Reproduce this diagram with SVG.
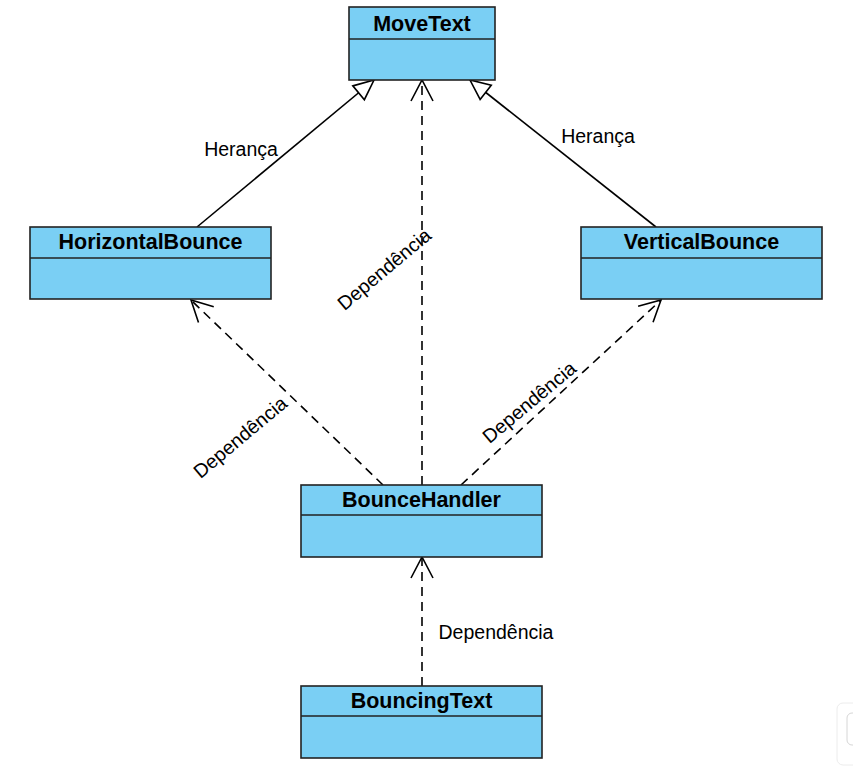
<svg xmlns="http://www.w3.org/2000/svg" width="853" height="767" viewBox="0 0 853 767">
<style>
.box{fill:#7acff4;stroke:#222;stroke-width:1.6}
.div{stroke:#222;stroke-width:1.6}
.title{font-family:"Liberation Sans",Arial,sans-serif;font-weight:bold;font-size:21.5px;fill:#000;text-anchor:middle}
.lbl{font-family:"Liberation Sans",Arial,sans-serif;font-size:19.5px;fill:#000;text-anchor:middle}
.inh{fill:none;stroke:#000;stroke-width:1.6}
.dep{fill:none;stroke:#000;stroke-width:1.6;stroke-dasharray:9 6}
</style>
<defs>
<marker id="tri" viewBox="-22 -12 24 24" refX="0" refY="0" markerWidth="24" markerHeight="24" markerUnits="userSpaceOnUse" orient="auto">
<path d="M-20,-9 L0,0 L-20,9 Z" fill="#fff" stroke="#000" stroke-width="1.6" stroke-dasharray="none"/>
</marker>
<marker id="open" viewBox="-23 -13 26 26" refX="0" refY="0" markerWidth="26" markerHeight="26" markerUnits="userSpaceOnUse" orient="auto">
<path d="M-21,-11 L0,0 L-21,11" fill="none" stroke="#000" stroke-width="1.6" stroke-dasharray="none"/>
</marker>
</defs>
<rect width="853" height="767" fill="#fff"/>
<g id="connectors">
<path class="inh" d="M197,227 L374,80" marker-end="url(#tri)"/>
<path class="inh" d="M656,227 L470,80" marker-end="url(#tri)"/>
<path class="dep" d="M422,485 L422,80" marker-end="url(#open)"/>
<path class="dep" d="M383,485 L191,300" marker-end="url(#open)"/>
<path class="dep" d="M461,485 L661,300" marker-end="url(#open)"/>
<path class="dep" d="M422,686 L422,557" marker-end="url(#open)"/>
<text class="lbl" x="241" y="156">Herança</text>
<text class="lbl" x="598" y="143">Herança</text>
<text class="lbl" x="496" y="639">Dependência</text>
<text class="lbl" transform="translate(384,269) rotate(-40)" x="0" y="7">Dependência</text>
<text class="lbl" transform="translate(240,437) rotate(-40)" x="0" y="7">Dependência</text>
<text class="lbl" transform="translate(529,402) rotate(-40)" x="0" y="7">Dependência</text>
</g>
<g id="MoveText">
<rect class="box" x="349" y="7" width="146" height="73"/>
<line class="div" x1="349" y1="39" x2="495" y2="39"/>
<text class="title" x="422" y="31">MoveText</text>
</g>
<g id="HorizontalBounce">
<rect class="box" x="30" y="227" width="241" height="72"/>
<line class="div" x1="30" y1="258" x2="271" y2="258"/>
<text class="title" x="150.5" y="249">HorizontalBounce</text>
</g>
<g id="VerticalBounce">
<rect class="box" x="581" y="227" width="241" height="72"/>
<line class="div" x1="581" y1="258" x2="822" y2="258"/>
<text class="title" x="701.5" y="249">VerticalBounce</text>
</g>
<g id="BounceHandler">
<rect class="box" x="301" y="485" width="241" height="72"/>
<line class="div" x1="301" y1="515" x2="542" y2="515"/>
<text class="title" x="421.5" y="507">BounceHandler</text>
</g>
<g id="BouncingText">
<rect class="box" x="301" y="686" width="241" height="72"/>
<line class="div" x1="301" y1="716" x2="542" y2="716"/>
<text class="title" x="421.5" y="708">BouncingText</text>
</g>
<g id="corner-widget">
<rect x="837" y="703" width="40" height="62" rx="6" fill="#fff" stroke="#ececec" stroke-width="1"/>
<rect x="847" y="713" width="30" height="32" rx="5" fill="none" stroke="#d6d6d6" stroke-width="1"/>
</g>
</svg>
